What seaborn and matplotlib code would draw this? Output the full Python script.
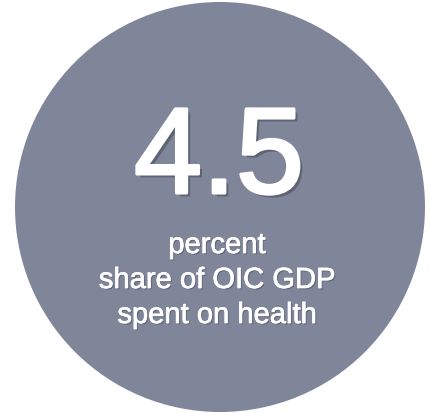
import matplotlib
matplotlib.use("Agg")
import matplotlib.pyplot as plt
import matplotlib.patheffects as pe
from matplotlib.patches import Circle
import seaborn as sns

# Data
value_label = "4.5"
caption_lines = ["percent", "share of OIC GDP", "spent on health"]
circle_color = "#80869A"

sns.set_theme(style="white")
plt.rcParams['font.family'] = ['Liberation Sans', 'DejaVu Sans']

fig = plt.figure(figsize=(4.30, 4.13), dpi=100)
ax = fig.add_axes([0, 0, 1, 1])
ax.set_xlim(0, 430)
ax.set_ylim(413, 0)
ax.set_aspect('equal')
ax.axis('off')

# the big disc
ax.add_patch(Circle((220, 207), 205, facecolor=circle_color, edgecolor='none'))

shadow = [pe.SimplePatchShadow(offset=(2.5, -2.5), shadow_rgbFace='#4a4e5c', alpha=0.6),
          pe.withStroke(linewidth=2.2, foreground='white')]

ax.text(219, 193, value_label, ha='center', va='baseline', color='white',
        fontsize=88, path_effects=shadow)

small_shadow = [pe.SimplePatchShadow(offset=(1, -1), shadow_rgbFace='#4a4e5c', alpha=0.5),
                pe.withStroke(linewidth=0.5, foreground='white')]
for i, line in enumerate(caption_lines):
    ax.text(217, 253 + i * 35, line, ha='center', va='baseline', color='white',
            fontsize=21, path_effects=small_shadow)

fig.savefig('out.png', dpi=100)
